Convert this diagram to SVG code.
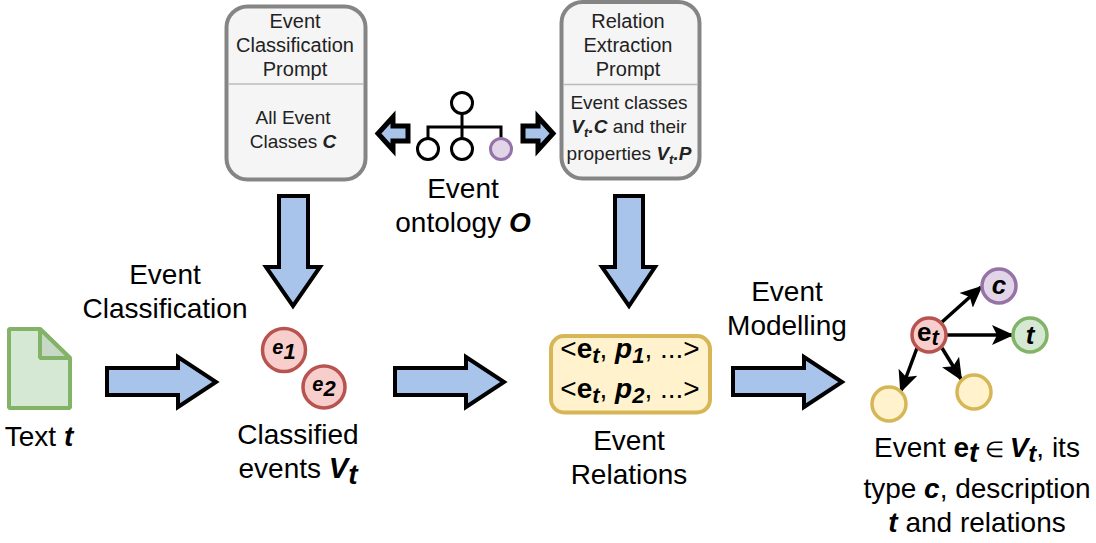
<svg xmlns="http://www.w3.org/2000/svg" width="1096" height="543" viewBox="0 0 1096 543">
<style>
text{font-family:"Liberation Sans",Arial,sans-serif;fill:#000;text-anchor:middle}
.l{font-size:28px}
.p{font-size:20px;fill:#222}
.q{font-size:19px;fill:#222}
.r{font-size:28px}
.bi{font-weight:bold;font-style:italic}
.b{font-weight:bold}
.big{fill:#a9c4eb;stroke:#000;stroke-width:4}
.small{fill:#a9c4eb;stroke:#000;stroke-width:5}
.prompt{fill:#f5f5f5;stroke:#858585;stroke-width:4}
.div{stroke:#bbb;stroke-width:1.5;fill:none}
.red{fill:#f8cecc;stroke:#b85450;stroke-width:3.5}
.pur{fill:#e1d5e7;stroke:#9673a6;stroke-width:3.5}
.grn{fill:#d5e8d4;stroke:#82b366;stroke-width:3.5}
.yel{fill:#fff2cc;stroke:#d6b656;stroke-width:3.5}
.ont{fill:#fff;stroke:#000;stroke-width:3}
.edge{stroke:#000;stroke-width:3.5;fill:none;marker-end:url(#ah)}
</style>
<defs>
<marker id="ah" markerUnits="userSpaceOnUse" markerWidth="24" markerHeight="24" refX="20" refY="10" orient="auto" viewBox="0 0 24 20">
<path d="M0,0 L22,10 L0,20 L5,10 Z" fill="#000"/>
</marker>
</defs>

<g id="connectors">
<polygon class="big" points="107,368 178,368 178,357 216,382 178,407 178,395 107,395"/>
<polygon class="big" points="395,368 466,368 466,357 504,382 466,407 466,395 395,395"/>
<polygon class="big" points="733,368 804,368 804,357 842,382 804,407 804,395 733,395"/>
<polygon class="big" points="279,196 308,196 308,267 320,267 293,306 266,267 279,267"/>
<polygon class="big" points="615,196 643,196 643,267 655,267 629,306 602,267 615,267"/>
<polygon class="small" points="408,126 408,141 393,141 393,150 378,133.500 393,117 393,126"/>
<polygon class="small" points="523,126 523,141 538,141 538,150 553,133.500 538,117 538,126"/>
<line class="edge" x1="942" y1="322" x2="981" y2="287"/>
<line class="edge" x1="947" y1="335" x2="1012" y2="335"/>
<line class="edge" x1="942" y1="348" x2="961" y2="379"/>
<line class="edge" x1="917" y1="348" x2="901" y2="391"/>
</g>

<g id="prompt-classification">
<rect class="prompt" x="226.500" y="6.500" width="139" height="173" rx="21"/>
<line class="div" x1="228" y1="84" x2="364" y2="84"/>
<text class="p" x="295" y="27.500">Event</text>
<text class="p" x="295" y="51.500">Classification</text>
<text class="p" x="295" y="75.500">Prompt</text>
<text class="q" x="293" y="124">All Event</text>
<text class="q" x="293" y="148">Classes <tspan class="bi">C</tspan></text>
</g>

<g id="prompt-relation">
<rect class="prompt" x="561.500" y="2" width="138" height="176.500" rx="21"/>
<line class="div" x1="563" y1="84.500" x2="698" y2="84.500"/>
<text class="p" x="628" y="27.500">Relation</text>
<text class="p" x="628" y="51.500">Extraction</text>
<text class="p" x="628" y="75.500">Prompt</text>
<text class="q" x="629" y="109">Event classes</text>
<text class="q" x="629" y="133"><tspan class="bi">V</tspan><tspan class="bi" font-size="13" dy="4">t</tspan><tspan class="bi" dy="-4">.C</tspan> and their</text>
<text class="q" x="629" y="160">properties <tspan class="bi">V</tspan><tspan class="bi" font-size="13" dy="4">t</tspan><tspan class="bi" dy="-4">.P</tspan></text>
</g>

<g id="ontology">
<path d="M462,114V138M428,138V127H501V138" fill="none" stroke="#000" stroke-width="3"/>
<circle class="ont" cx="462" cy="103" r="10.500"/>
<circle class="ont" cx="428" cy="149" r="10.500"/>
<circle class="ont" cx="462" cy="149" r="10.500"/>
<circle cx="501" cy="149" r="10.500" fill="#e1d5e7" stroke="#9673a6" stroke-width="3"/>
<text class="l" x="463" y="198">Event</text>
<text class="l" x="463" y="232">ontology <tspan class="bi">O</tspan></text>
</g>

<g id="text-doc">
<path d="M9,329H40L70,358V408H9Z" fill="#d5e8d4" stroke="#82b366" stroke-width="4" stroke-linejoin="bevel"/>
<path d="M40,329V358H70Z" fill="#c8d8c6" stroke="#82b366" stroke-width="4" stroke-linejoin="bevel"/>
<text class="l" x="39" y="446">Text <tspan class="bi">t</tspan></text>
</g>

<g id="label-classification">
<text class="l" x="165" y="284">Event</text>
<text class="l" x="165" y="318">Classification</text>
</g>

<g id="classified-events">
<circle class="red" cx="284" cy="350" r="21.500"/>
<text x="284" y="354" font-size="20" class="b" style="font-style:italic">e<tspan font-size="22" dy="5">1</tspan></text>
<circle class="red" cx="324" cy="387" r="21"/>
<text x="324" y="391" font-size="20" class="b" style="font-style:italic">e<tspan font-size="22" dy="5">2</tspan></text>
<text class="l" x="298" y="444">Classified</text>
<text class="l" x="298" y="478">events <tspan class="bi" font-size="29">V</tspan><tspan class="bi" font-size="28" dy="6">t</tspan></text>
</g>

<g id="event-relations">
<rect x="551" y="336" width="159" height="76.500" rx="13" fill="#fff2cc" stroke="#d6b656" stroke-width="4"/>
<text class="r" x="630" y="358">&lt;<tspan class="b">e</tspan><tspan class="bi" font-size="22" dy="5">t</tspan><tspan dy="-5">, </tspan><tspan class="bi">p</tspan><tspan class="bi" font-size="22" dy="5">1</tspan><tspan dy="-5">, ...&gt;</tspan></text>
<text class="r" x="630" y="398">&lt;<tspan class="b">e</tspan><tspan class="bi" font-size="22" dy="5">t</tspan><tspan dy="-5">, </tspan><tspan class="bi">p</tspan><tspan class="bi" font-size="22" dy="5">2</tspan><tspan dy="-5">, ...&gt;</tspan></text>
<text class="l" x="629" y="450">Event</text>
<text class="l" x="629" y="484">Relations</text>
</g>

<g id="label-modelling">
<text class="l" x="787" y="301">Event</text>
<text class="l" x="787" y="335">Modelling</text>
</g>

<g id="node-et">
<circle class="red" cx="929" cy="335" r="17"/>
<text x="928" y="341" font-size="26" class="b">e<tspan class="bi" font-size="22" dy="4">t</tspan></text>
</g>
<g id="node-c">
<circle class="pur" cx="999" cy="286" r="17"/>
<text x="999" y="294" font-size="26" class="bi">c</text>
</g>
<g id="node-t">
<circle class="grn" cx="1030" cy="335" r="17"/>
<text x="1030" y="344" font-size="26" class="bi">t</text>
</g>
<g id="node-y1"><circle class="yel" cx="889" cy="404" r="17"/></g>
<g id="node-y2"><circle class="yel" cx="974" cy="392" r="17"/></g>

<g id="caption">
<text class="l" x="977" y="457">Event <tspan class="b">e</tspan><tspan class="bi" dy="5">t</tspan><tspan dy="-5" font-size="22"> ∈ </tspan><tspan class="bi">V</tspan><tspan class="bi" dy="5" font-size="24">t</tspan><tspan dy="-5">, its</tspan></text>
<text class="l" x="977" y="498">type <tspan class="bi">c</tspan>, description</text>
<text class="l" x="977" y="532"><tspan class="bi">t</tspan> and relations</text>
</g>
</svg>
